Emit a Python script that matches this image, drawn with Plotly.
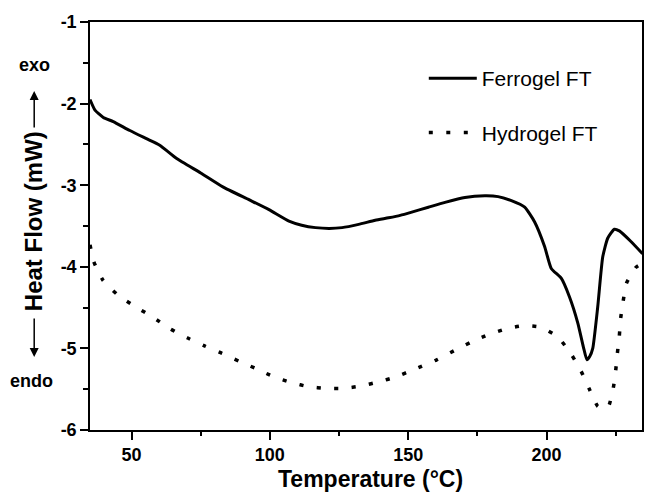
import plotly.graph_objects as go

# ---- data ----
ferro_T = [35.0, 36.8, 39.8, 43.4, 49.4, 55.4, 60.2, 66.2, 75.0, 83.0, 92.6, 99.7,
           106.9, 111.5, 116.5, 121.5, 126.1, 132.1, 138.1, 142.9, 147.1, 151.3, 157.3,
           163.3, 170.5, 177.7, 182.5, 187.3, 192.1, 195.7, 199.3, 201.7, 205.3, 208.3,
           211.3, 213.3, 214.6, 215.6, 216.7, 218.5, 220.3, 222.1, 224.5, 226.3, 230.5, 234.7]
ferro_HF = [-1.95, -2.08, -2.17, -2.22, -2.33, -2.43, -2.51, -2.67, -2.85, -3.02, -3.18, -3.30,
            -3.44, -3.49, -3.52, -3.53, -3.52, -3.48, -3.43, -3.40, -3.37, -3.33, -3.27,
            -3.21, -3.15, -3.13, -3.14, -3.19, -3.27, -3.45, -3.75, -4.02, -4.14, -4.37,
            -4.69, -4.98, -5.14, -5.10, -5.00, -4.49, -3.88, -3.65, -3.54, -3.56, -3.69, -3.84]

hydro_T = [35.0, 36.4, 39.6, 45.2, 51.5, 57.8, 64.0, 70.1, 76.4, 82.7, 89.0, 95.2, 101.5,
           107.9, 114.1, 120.4, 126.7, 133.1, 139.3, 145.5, 151.9, 160.3, 166.5, 172.9,
           179.1, 185.4, 191.6, 197.8, 204.1, 208.9, 212.5, 215.5, 218.5, 220.5, 222.4,
           224.1, 225.0, 225.6, 226.3, 226.8, 227.7, 228.9, 232.2, 234.6]
hydro_HF = [-3.73, -3.94, -4.16, -4.35, -4.49, -4.62, -4.76, -4.87, -4.97, -5.06, -5.16, -5.25,
            -5.35, -5.42, -5.47, -5.49, -5.49, -5.46, -5.41, -5.35, -5.26, -5.14, -5.03,
            -4.92, -4.83, -4.76, -4.72, -4.74, -4.86, -5.07, -5.28, -5.50, -5.71, -5.74,
            -5.71, -5.49, -5.27, -5.06, -4.85, -4.63, -4.42, -4.20, -4.01, -3.96]

series_names = ["Ferrogel FT", "Hydrogel FT"]
x_ticks = [50, 100, 150, 200]
x_ticklabels = ["50", "100", "150", "200"]
y_ticks = [-6, -5, -4, -3, -2, -1]
y_ticklabels = ["-6", "-5", "-4", "-3", "-2", "-1"]
x_title = "Temperature (°C)"
y_title = "Heat Flow (mW)"

# ---- layout geometry ----
W, H = 646, 492
L, R, T, B = 90, 2, 22, 62
PW, PH = W - L - R, H - T - B


def px(xp):
    return (xp - L) / PW


def py(yp):
    return (H - B - yp) / PH


FONT = "Liberation Sans, Arial, sans-serif"

fig = go.Figure()
fig.add_trace(go.Scatter(
    x=ferro_T, y=ferro_HF, mode="lines", name=series_names[0],
    line=dict(color="black", width=3, shape="spline", smoothing=0.5),
    legendgroup="a"))
fig.add_trace(go.Scatter(
    x=hydro_T, y=hydro_HF, mode="lines", name=series_names[1],
    line=dict(color="black", width=3.5, dash="4px,13.5px", shape="spline", smoothing=0.5),
    legendgroup="b"))

axis_common = dict(
    showgrid=False, zeroline=False, showline=True, linecolor="black", linewidth=1.5,
    mirror=True, ticks="outside", ticklen=8, tickwidth=1.5, tickcolor="black",
    tickfont=dict(family=FONT, size=18, color="black", weight="bold"),
)

fig.update_xaxes(range=[35, 234.5], tickmode="array", tickvals=x_ticks, ticktext=x_ticklabels,
                 minor=dict(dtick=25, tick0=0, ticks="outside", ticklen=4, tickwidth=1.5,
                            tickcolor="black"),
                 **axis_common)
fig.update_yaxes(range=[-6, -1], tickmode="array", tickvals=y_ticks, ticktext=y_ticklabels,
                 minor=dict(dtick=0.5, tick0=0, ticks="outside", ticklen=5, tickwidth=1.5,
                            tickcolor="black"),
                 **axis_common)

ann_base = dict(xref="paper", yref="paper", xanchor="center", yanchor="middle")
annotations = [
    dict(text="<b>" + x_title + "</b>", x=px(372), y=py(479), showarrow=False,
         font=dict(family=FONT, size=23, color="black"), **ann_base),
    dict(text="<b>" + y_title + "</b>", x=px(33), y=py(221), showarrow=False, textangle=-90,
         font=dict(family=FONT, size=24, color="black"), **ann_base),
    dict(text="<b>exo</b>", x=px(34), y=py(65), showarrow=False,
         font=dict(family=FONT, size=18, color="black"), **ann_base),
    dict(text="<b>endo</b>", x=px(31), y=py(381), showarrow=False,
         font=dict(family=FONT, size=18, color="black"), **ann_base),
    # up arrow (exo)
    dict(text="", x=px(34), y=py(91), showarrow=True,
         ax=0, ay=38, arrowhead=2, arrowsize=1.2, arrowwidth=1.5, arrowcolor="black", **ann_base),
    # down arrow (endo)
    dict(text="", x=px(34), y=py(357), showarrow=True,
         ax=0, ay=-40, arrowhead=2, arrowsize=1.2, arrowwidth=1.5, arrowcolor="black", **ann_base),
]

fig.update_layout(
    width=W, height=H, autosize=False,
    margin=dict(l=L, r=R, t=T, b=B, pad=0),
    paper_bgcolor="white", plot_bgcolor="white",
    font=dict(family=FONT, color="black"),
    showlegend=True,
    legend=dict(x=px(425), y=py(58), xanchor="left", yanchor="top",
                bgcolor="rgba(0,0,0,0)", borderwidth=0, itemwidth=48,
                font=dict(family=FONT, size=21, color="black"),
                traceorder="grouped", tracegroupgap=24),
    annotations=annotations,
)

fig.write_html("out.html")
